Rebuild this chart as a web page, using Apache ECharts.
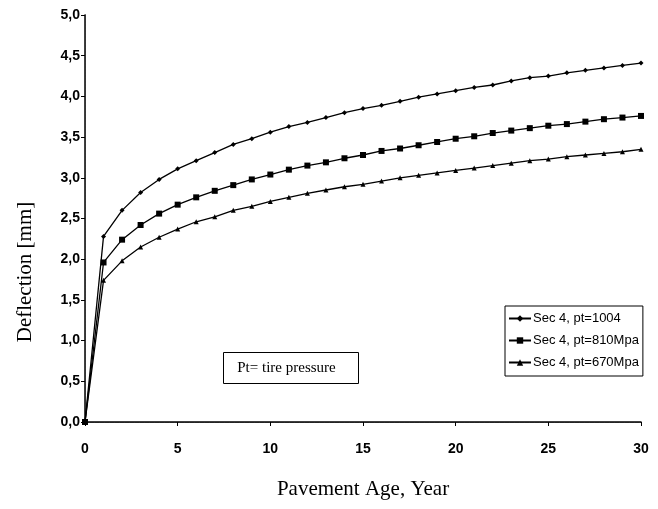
<!DOCTYPE html>
<html>
<head>
<meta charset="utf-8">
<script src="https://cdn.jsdelivr.net/npm/echarts@6/dist/echarts.min.js"></script>
<style>
  html, body { margin: 0; padding: 0; background: #fff; }
  #chart { width: 658px; height: 509px; }
</style>
</head>
<body>
<div id="chart"></div>
<script>
// Pavement age in years
var years = [0, 1, 2, 3, 4, 5, 6, 7, 8, 9, 10, 11, 12, 13, 14, 15, 16, 17, 18, 19, 20,
             21, 22, 23, 24, 25, 26, 27, 28, 29, 30];

// Deflection [mm] for each tire pressure
var defl1004 = [0, 2.28, 2.60, 2.82, 2.98, 3.11, 3.21, 3.31, 3.41, 3.48, 3.56, 3.63, 3.68, 3.74, 3.80, 3.85, 3.89, 3.94, 3.99, 4.03, 4.07,
                4.11, 4.14, 4.19, 4.23, 4.25, 4.29, 4.32, 4.35, 4.38, 4.41];
var defl810 = [0, 1.96, 2.24, 2.42, 2.56, 2.67, 2.76, 2.84, 2.91, 2.98, 3.04, 3.10, 3.15, 3.19, 3.24, 3.28, 3.33, 3.36, 3.40, 3.44, 3.48,
               3.51, 3.55, 3.58, 3.61, 3.64, 3.66, 3.69, 3.72, 3.74, 3.76];
var defl670 = [0, 1.74, 1.98, 2.15, 2.27, 2.37, 2.46, 2.52, 2.60, 2.65, 2.71, 2.76, 2.81, 2.85, 2.89, 2.92, 2.96, 3.00, 3.03, 3.06, 3.09,
               3.12, 3.15, 3.18, 3.21, 3.23, 3.26, 3.28, 3.30, 3.32, 3.35];

var seriesNames = ['Sec 4, pt=1004', 'Sec 4, pt=810Mpa', 'Sec 4, pt=670Mpa'];
var xTicks = { min: 0, max: 30, step: 5 };
var yTicks = { min: 0, max: 5, step: 0.5 };

function pairs(vals) {
  return years.map(function (y, i) { return [y, vals[i]]; });
}

var chart = echarts.init(document.getElementById('chart'), null, { renderer: 'canvas' });

var sansFont = '"Liberation Sans", Arial, sans-serif';
var serifFont = '"Liberation Serif", "Times New Roman", serif';

function lineSeries(name, vals, symbol, size) {
  return {
    name: name,
    type: 'line',
    data: pairs(vals),
    symbol: symbol,
    symbolSize: size,
    showAllSymbol: true,
    animation: false,
    lineStyle: { color: '#000', width: 1.3 },
    itemStyle: { color: '#000' },
    xAxisIndex: 0,
    yAxisIndex: 0
  };
}

chart.setOption({
  backgroundColor: '#fff',
  animation: false,
  grid: { left: 85, right: 17, top: 15, bottom: 87 },
  legend: {
    orient: 'vertical',
    left: 505,
    top: 306,
    padding: [6, 4, 7, 3],
    itemGap: 9,
    itemWidth: 22,
    itemHeight: 8,
    borderColor: '#000',
    borderWidth: 1,
    backgroundColor: '#fff',
    textStyle: { fontFamily: sansFont, fontSize: 13, color: '#000', padding: [0, 0, 0, -3] },
    data: seriesNames
  },
  xAxis: [{
    type: 'value',
    min: xTicks.min, max: xTicks.max, interval: xTicks.step,
    axisLine: { show: true, lineStyle: { color: '#000', width: 1.5 } },
    axisTick: { show: true, length: 4, lineStyle: { color: '#000' } },
    splitLine: { show: false },
    axisLabel: { color: '#000', fontFamily: sansFont, fontSize: 14, fontWeight: 'bold', margin: 20 },
    name: 'Pavement Age, Year',
    nameLocation: 'middle',
    nameGap: 57,
    nameTextStyle: { fontFamily: serifFont, fontSize: 21, color: '#000' }
  }, {
    type: 'value', position: 'top',
    min: xTicks.min, max: xTicks.max,
    axisLine: { show: true, lineStyle: { color: '#222', width: 1, type: [4, 1] } },
    axisTick: { show: false }, axisLabel: { show: false }, splitLine: { show: false }
  }],
  yAxis: [{
    type: 'value',
    min: yTicks.min, max: yTicks.max, interval: yTicks.step,
    axisLine: { show: true, lineStyle: { color: '#000', width: 1.5 } },
    axisTick: { show: true, length: 4, lineStyle: { color: '#000' } },
    splitLine: { show: false },
    axisLabel: {
      color: '#000', fontFamily: sansFont, fontSize: 14, fontWeight: 'bold', margin: 5,
      formatter: function (v) { return v.toFixed(1).replace('.', ','); }
    }
  }, {
    type: 'value', position: 'right',
    min: yTicks.min, max: yTicks.max,
    axisLine: { show: true, lineStyle: { color: '#333', width: 1, type: [2, 1] } },
    axisTick: { show: false }, axisLabel: { show: false }, splitLine: { show: false }
  }],
  series: [
    lineSeries(seriesNames[0], defl1004, 'diamond', 5),
    lineSeries(seriesNames[1], defl810, 'rect', 6),
    lineSeries(seriesNames[2], defl670, 'triangle', 5)
  ],
  graphic: [{
    // vertical axis title
    type: 'text',
    x: 25, y: 272,
    rotation: Math.PI / 2,
    style: {
      text: 'Deflection [mm]',
      fontFamily: serifFont, fontSize: 21, fill: '#000',
      align: 'center', verticalAlign: 'middle'
    }
  }, {
    type: 'group',
    left: 223,
    top: 352,
    children: [{
      type: 'rect',
      shape: { x: 0, y: 0, width: 135, height: 31 },
      style: { fill: '#fff', stroke: '#000', lineWidth: 1 }
    }, {
      type: 'text',
      x: 63, y: 16,
      style: {
        text: 'Pt= tire pressure',
        fontFamily: serifFont, fontSize: 15, fill: '#000',
        align: 'center', verticalAlign: 'middle'
      }
    }]
  }]
});
</script>
</body>
</html>
